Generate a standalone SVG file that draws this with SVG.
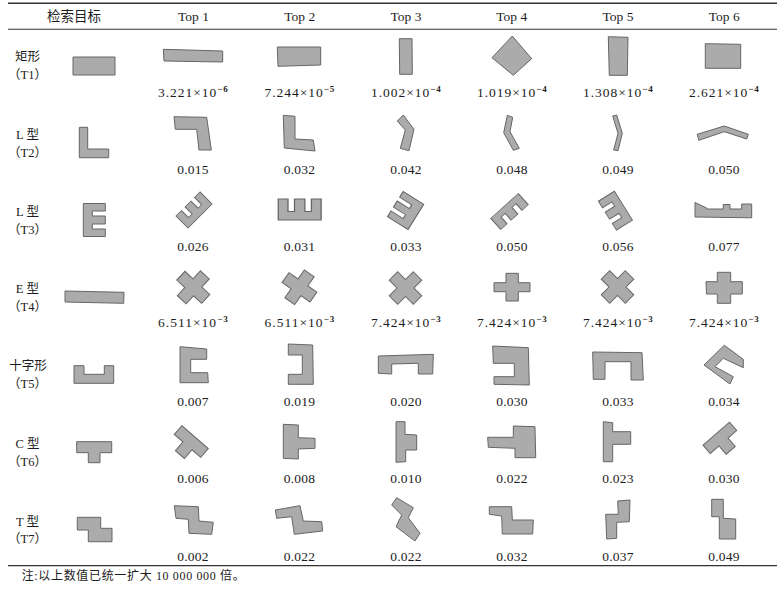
<svg xmlns="http://www.w3.org/2000/svg" width="780" height="591" viewBox="0 0 780 591">
<style>
text{font-family:"Liberation Serif","Noto Sans CJK SC",serif;fill:#1c1c22}
.h{font-size:13.5px;text-anchor:middle}
.lb{font-size:12.5px;text-anchor:middle}
.v{font-size:13.5px;text-anchor:middle;letter-spacing:0.2px}
.sup{font-size:9px;font-weight:bold}
.s{fill:#ababab;stroke:#666;stroke-width:1;stroke-linejoin:miter}
.s *{vector-effect:non-scaling-stroke}
.rule{stroke:#333;fill:none}
</style>
<defs>
<polygon id="E" points="-11,-16.5 11,-16.5 11,-9 -2,-9 -2,-4 11,-4 11,4 -2,4 -2,9 11,9 11,16.5 -11,16.5"/>
<polygon id="X" points="-6,-17 6,-17 6,-6 17,-6 17,6 6,6 6,17 -6,17 -6,6 -17,6 -17,-6 -6,-6"/>
<polygon id="T" points="-17.5,-11 17.5,-11 17.5,0 6,0 6,11 -6,11 -6,0 -17.5,0"/>
</defs>
<rect width="780" height="591" fill="#fff"/>

<g id="rules">
<line class="rule" x1="8" y1="3.3" x2="777" y2="3.3" stroke-width="1.6"/>
<line class="rule" x1="8" y1="29.3" x2="777" y2="29.3" stroke-width="1.1"/>
<line class="rule" x1="8" y1="565.7" x2="777" y2="565.7" stroke-width="1.3"/>
</g>

<g id="header">
<text class="h" x="74" y="21">检索目标</text>
<text class="h" x="193.5" y="21">Top 1</text>
<text class="h" x="299.7" y="21">Top 2</text>
<text class="h" x="406" y="21">Top 3</text>
<text class="h" x="511.7" y="21">Top 4</text>
<text class="h" x="618" y="21">Top 5</text>
<text class="h" x="724.2" y="21">Top 6</text>
</g>

<g id="row-T1">
<text class="lb" x="27.5" y="61">矩形</text>
<text class="lb" x="27.5" y="79">（T1）</text>
<g id="T1-target" class="s"><rect x="73" y="57" width="42" height="18"/></g>
<g id="T1-top1" class="s"><polygon points="163.3,49.3 222.7,51 222.7,62 164,61"/></g>
<g id="T1-top2" class="s"><polygon points="277.3,47 320.7,47 320.7,65 278,66.3"/></g>
<g id="T1-top3" class="s"><polygon points="399.3,38.7 412,38.7 412.3,74.3 399.7,74.3"/></g>
<g id="T1-top4" class="s"><polygon points="492,57.7 512.3,36 531.7,58.7 513.3,75.3"/></g>
<g id="T1-top5" class="s"><polygon points="608.3,36.7 628,37.3 627.3,75.3 609.3,75.3"/></g>
<g id="T1-top6" class="s"><polygon points="705.3,43.7 740.7,44.3 740.7,68.3 705.3,68.3"/></g>
<text class="v" x="193" y="96.5" textLength="70">3.221×10<tspan class="sup" dy="-5">−6</tspan></text>
<text class="v" x="299.5" y="96.5" textLength="70">7.244×10<tspan class="sup" dy="-5">−5</tspan></text>
<text class="v" x="406" y="96.5" textLength="70">1.002×10<tspan class="sup" dy="-5">−4</tspan></text>
<text class="v" x="512" y="96.5" textLength="70">1.019×10<tspan class="sup" dy="-5">−4</tspan></text>
<text class="v" x="618" y="96.5" textLength="70">1.308×10<tspan class="sup" dy="-5">−4</tspan></text>
<text class="v" x="724" y="96.5" textLength="70">2.621×10<tspan class="sup" dy="-5">−4</tspan></text>
</g>

<g id="row-T2">
<text class="lb" x="27.5" y="138.5">L 型</text>
<text class="lb" x="27.5" y="156.5">（T2）</text>
<g id="T2-target" class="s"><polygon points="79.3,127.3 87.7,127.3 87.7,149 108.7,149 108.7,157.7 79.3,157.7"/></g>
<g id="T2-top1" class="s"><polygon points="174,116.7 206.7,117.3 211.3,150 199,150 196.7,129.3 175.3,129.3"/></g>
<g id="T2-top2" class="s"><polygon points="283.3,115.3 295,116.3 295,139 313.3,140 315,151 284.3,148"/></g>
<g id="T2-top3" class="s"><polygon points="397.3,121 403.3,115 414,129.3 409,150.7 400.3,148.3 405.3,130"/></g>
<g id="T2-top4" class="s"><polygon points="507.3,115.3 512.7,117.3 510,131.7 519.3,148.3 513.3,150.3 503.7,132.7"/></g>
<g id="T2-top5" class="s"><polygon points="612.7,116 616.7,115 622.3,133.3 618,150.7 613.7,150 618,133.3"/></g>
<g id="T2-top6" class="s"><polygon points="697.3,134.3 724.3,126 748.3,134.3 746.7,139 724.3,131.7 698.7,140.3"/></g>
<text class="v" x="193" y="173.5">0.015</text>
<text class="v" x="299.5" y="173.5">0.032</text>
<text class="v" x="406" y="173.5">0.042</text>
<text class="v" x="512" y="173.5">0.048</text>
<text class="v" x="618" y="173.5">0.049</text>
<text class="v" x="724" y="173.5">0.050</text>
</g>

<g id="row-T3">
<text class="lb" x="27.5" y="215.5">L 型</text>
<text class="lb" x="27.5" y="233.5">（T3）</text>
<g id="T3-target" class="s"><use href="#E" transform="translate(94.3,220)"/></g>
<g id="T3-top1" class="s"><use href="#E" transform="translate(194,210) rotate(225) scale(0.77,1.03)"/></g>
<g id="T3-top2" class="s"><use href="#E" transform="translate(299.7,209.5) rotate(-90) scale(0.95,1.3)"/></g>
<g id="T3-top3" class="s"><use href="#E" transform="translate(405.6,210.5) rotate(212) scale(1.1,0.9)"/></g>
<g id="T3-top4" class="s"><use href="#E" transform="translate(509.5,211.5) rotate(48) scale(0.68,1.12)"/></g>
<g id="T3-top5" class="s"><use href="#E" transform="translate(615.4,210.7) rotate(148) scale(0.86,1.03)"/></g>
<g id="T3-top6" class="s"><polygon points="695,202.5 706.7,208 706.7,209 723.3,209 723.3,204.5 730,204.5 730,209 741.7,209 741.7,204 751.7,204 751.7,217.8 695,217"/></g>
<text class="v" x="193" y="251">0.026</text>
<text class="v" x="299.5" y="251">0.031</text>
<text class="v" x="406" y="251">0.033</text>
<text class="v" x="512" y="251">0.050</text>
<text class="v" x="618" y="251">0.056</text>
<text class="v" x="724" y="251">0.077</text>
</g>

<g id="row-T4">
<text class="lb" x="27.5" y="292.5">E 型</text>
<text class="lb" x="27.5" y="310.5">（T4）</text>
<g id="T4-target" class="s"><polygon points="65,291 124,292.3 123.7,303.3 65,302"/></g>
<g id="T4-top1" class="s"><use href="#X" transform="translate(193.3,287.3) rotate(43)"/></g>
<g id="T4-top2" class="s"><use href="#X" transform="translate(299.5,287.3) rotate(35)"/></g>
<g id="T4-top3" class="s"><use href="#X" transform="translate(405.5,288) rotate(45)"/></g>
<g id="T4-top4" class="s"><polygon points="506,273.3 518.3,273.3 518.3,282.7 530,282.7 530,291.7 518.3,291.7 518.3,301 506,301 506,291.7 494,291.7 494,282.7 506,282.7"/></g>
<g id="T4-top5" class="s"><use href="#X" transform="translate(617.5,287) rotate(45)"/></g>
<g id="T4-top6" class="s"><polygon points="717.3,272.3 730.7,272.3 730.7,281.7 742.3,281.7 742.3,294 730.7,294 730.7,303.3 717.3,303.3 717.3,294 706.5,294 706,281.7 717.3,281.7"/></g>
<text class="v" x="193" y="327" textLength="70">6.511×10<tspan class="sup" dy="-5">−3</tspan></text>
<text class="v" x="299.5" y="327" textLength="70">6.511×10<tspan class="sup" dy="-5">−3</tspan></text>
<text class="v" x="406" y="327" textLength="70">7.424×10<tspan class="sup" dy="-5">−3</tspan></text>
<text class="v" x="512" y="327" textLength="70">7.424×10<tspan class="sup" dy="-5">−3</tspan></text>
<text class="v" x="618" y="327" textLength="70">7.424×10<tspan class="sup" dy="-5">−3</tspan></text>
<text class="v" x="724" y="327" textLength="70">7.424×10<tspan class="sup" dy="-5">−3</tspan></text>
</g>

<g id="row-T5">
<text class="lb" x="28" y="370">十字形</text>
<text class="lb" x="27.5" y="388">（T5）</text>
<g id="T5-target" class="s"><polygon points="74,365.7 84,365.7 84,374.3 104.3,374.3 104.3,365.7 113.7,365.7 113.7,383.3 74,383.3"/></g>
<g id="T5-top1" class="s"><polygon points="180,346.7 206.7,349 206.7,359.3 190.7,359.3 190.7,372.7 207.7,372.7 208.3,382.7 180,382.7"/></g>
<g id="T5-top2" class="s"><polygon points="288.3,344 312.7,345 313.3,384.3 288.3,384.3 288.3,374.3 302.3,374.3 302.3,355 288.3,355"/></g>
<g id="T5-top3" class="s"><polygon points="378.3,356 433.3,354.3 432.7,374 418.3,374 418.3,363.3 391.7,364 391.7,374 378.3,373.3"/></g>
<g id="T5-top4" class="s"><polygon points="492.7,346 528.3,347.7 529.3,385 494,384.3 494,376.7 514.3,376.7 514.3,363.3 493.3,363.3"/></g>
<g id="T5-top5" class="s"><polygon points="592.7,352 642,352.7 643.3,380 631,380 631,361.7 605,361.7 605,379.3 593.3,379.3"/></g>
<g id="T5-top6" class="s"><polygon points="724.3,345.3 743.3,359.3 743.3,367.7 723.3,358.3 715,366.7 733.3,376.7 730,384 704,365"/></g>
<text class="v" x="193" y="406">0.007</text>
<text class="v" x="299.5" y="406">0.019</text>
<text class="v" x="406" y="406">0.020</text>
<text class="v" x="512" y="406">0.030</text>
<text class="v" x="618" y="406">0.033</text>
<text class="v" x="724" y="406">0.034</text>
</g>

<g id="row-T6">
<text class="lb" x="27.5" y="447.5">C 型</text>
<text class="lb" x="27.5" y="465.5">（T6）</text>
<g id="T6-target" class="s"><polygon points="76.7,441.7 111.7,441.7 111.7,452.7 100,452.7 100,462.7 88.3,462.7 88.3,452.7 76.7,452.7"/></g>
<g id="T6-top1" class="s"><use href="#T" transform="translate(187.5,445.8) rotate(41) scale(1,1.05)"/></g>
<g id="T6-top2" class="s"><polygon points="283.3,424.3 298.3,425 298.3,437.7 315,438.3 315,448.3 298.3,449 298.3,459 283.3,458.3"/></g>
<g id="T6-top3" class="s"><polygon points="396,421.7 405,421.7 405,434.3 416.7,435 416.7,450 405.7,450 405.7,461.7 396,462.3"/></g>
<g id="T6-top4" class="s"><polygon points="513.3,426 535,426.7 535.7,457.7 515,457.7 515,448.3 488.3,447.3 487.7,437.3 513.3,437.3"/></g>
<g id="T6-top5" class="s"><polygon points="603.3,421.7 612.7,422.7 612.7,431.7 630.7,431.7 630.7,444.3 612.7,444.3 612.7,461.7 603.3,461.7"/></g>
<g id="T6-top6" class="s"><use href="#T" transform="translate(723.5,442) rotate(-41)"/></g>
<text class="v" x="193" y="482.7">0.006</text>
<text class="v" x="299.5" y="482.7">0.008</text>
<text class="v" x="406" y="482.7">0.010</text>
<text class="v" x="512" y="482.7">0.022</text>
<text class="v" x="618" y="482.7">0.023</text>
<text class="v" x="724" y="482.7">0.030</text>
</g>

<g id="row-T7">
<text class="lb" x="27.5" y="525.5">T 型</text>
<text class="lb" x="27.5" y="543">（T7）</text>
<g id="T7-target" class="s"><polygon points="77.3,517.3 100.7,517.3 100.7,528.3 112,528.3 112,541.7 88.3,541.7 88.3,530 77.3,530"/></g>
<g id="T7-top1" class="s"><polygon points="174.3,505.7 198.3,506.7 199,521 213.3,522.3 211.7,534.3 189,533.3 188.3,519.3 176,518.3"/></g>
<g id="T7-top2" class="s"><polygon points="275.3,510 300,505.7 303.3,521 321.7,521.7 322.7,531 294.3,534.3 291.7,516.7 276.7,518.3"/></g>
<g id="T7-top3" class="s"><polygon points="396.7,497.7 413.3,507.7 408.3,517.7 420,533.3 415,541 396,526.7 401.7,515 391.7,505"/></g>
<g id="T7-top4" class="s"><polygon points="489.3,506.7 511.7,506.7 512.3,520 533.3,520 532.7,534 502.3,534 501.7,516 489.3,514.3"/></g>
<g id="T7-top5" class="s"><polygon points="617.7,501 630,500 629.3,521.7 616.7,522.3 616.7,538.3 606.7,539 605.7,514.3 618.3,514.3"/></g>
<g id="T7-top6" class="s"><polygon points="711.7,499.3 723.3,499.3 723.3,518.3 735.7,519 735.7,539 719.3,539 719.3,516.7 711.7,516.7"/></g>
<text class="v" x="193" y="561">0.002</text>
<text class="v" x="299.5" y="561">0.022</text>
<text class="v" x="406" y="561">0.022</text>
<text class="v" x="512" y="561">0.032</text>
<text class="v" x="618" y="561">0.037</text>
<text class="v" x="724" y="561">0.049</text>
</g>

<g id="note">
<text x="21.7" y="580" font-size="12" textLength="223">注:以上数值已统一扩大 10 000 000 倍。</text>
</g>
</svg>
